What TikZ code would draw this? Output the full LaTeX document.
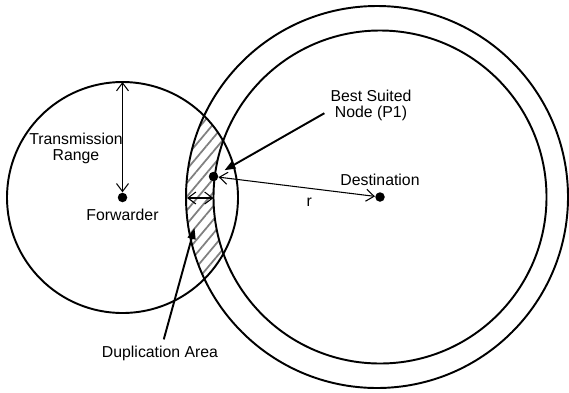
\documentclass[tikz,border=0pt]{standalone}
\usepackage{fontspec}
\setmainfont{Liberation Sans}
\usetikzlibrary{arrows.meta, patterns.meta}

\begin{document}
\begin{tikzpicture}[
    font=\fontsize{9pt}{9.1pt}\selectfont,
    ring/.style={line width=1.1pt},
    dot/.style={circle, fill, inner sep=0pt, minimum size=0.19cm},
    pointer/.style={line width=1.1pt, -{Triangle[length=2.2mm, width=1.6mm]}},
    twoway/.style={line width=0.6pt, {Straight Barb[length=1.6mm, width=2.4mm]}-{Straight Barb[length=1.6mm, width=2.4mm]}}
]
    \useasboundingbox (0, 0) rectangle (11.38, 7.84);

    % duplication area
    \begin{scope}
        \clip (2.45, 3.89) circle (2.31);
        \fill[pattern={Lines[angle=50, distance=5pt, line width=1pt]}, pattern color=gray, even odd rule]
            (7.54, 3.90) circle (3.82) (7.60, 3.90) circle (3.33);
    \end{scope}

    \coordinate (O) at (7.54, 3.90);
    \node[dot, label=below:{Forwarder}] at (2.45, 3.89) (F) {};
    \node[dot, label=above:{Destination}] at (7.60, 3.90) (D) {};
    \node[dot] at (4.27, 4.31) (P1) {};

    \draw[ring] (F) circle (2.31);
    \draw[ring] (O) circle (3.82);
    \draw[ring] (D) circle (3.33);

    \node[align=center] at (1.52, 4.88) (tr) {Transmission\\Range};
    \node[align=center] at (7.42, 5.74) (bsn) {Best Suited\\Node (P1)};
    \node at (3.20, 0.78) (dup) {Duplication Area};

    \coordinate (T) at (2.45, 6.20);
    \coordinate (G1) at (3.74, 3.88);
    \coordinate (G2) at (4.27, 3.88);
    \coordinate (DA) at (3.89, 3.28);

    \draw[twoway] (F) -- (T);
    \draw[twoway] (G1) -- (G2);
    \draw[twoway] (P1) -- node[pos=0.58, below=2pt] (r) {r} (D);
    \draw[pointer, shorten >=1.5mm] (bsn.190) -- (P1);
    \draw[pointer] (dup) -- (DA);
\end{tikzpicture}
\end{document}
